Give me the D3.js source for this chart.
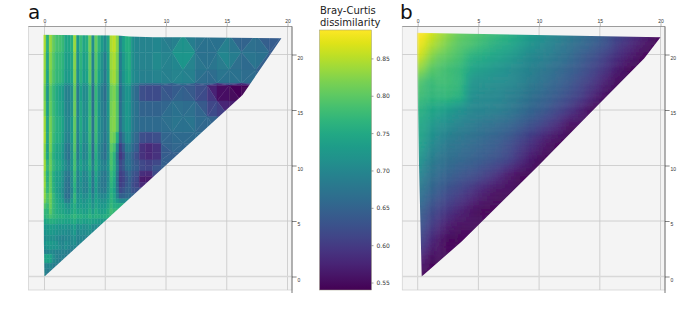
<!DOCTYPE html>
<html lang="en">
  <head>
    <meta charset="utf-8">
    <title>Bray-Curtis dissimilarity</title>
    <script src="https://cdnjs.cloudflare.com/ajax/libs/d3/7.8.5/d3.min.js"></script>
    <style type="text/css">
body { margin: 0; background: #fff; }
svg { display: block; font-family: "DejaVu Sans", sans-serif; }
.axis text { fill: #333; font-size: 5px; }
    </style>
  </head>

  <body>
    <div id="chart"></div>

    <script>
      var tickValues = [0, 5, 10, 15, 20];
      var barTicks = [0.55, 0.60, 0.65, 0.70, 0.75, 0.80, 0.85];
      var barDomain = [0.54, 0.888];

      // panel a: node positions and values
      var xsA = [-.12, .13, .38, .63, .88, 1.13, 1.38, 1.63, 1.88, 2.13, 2.38, 2.63, 2.88, 3.13, 3.38, 3.63, 3.88, 4.13, 4.38, 4.63, 4.88, 5.13, 5.38, 5.63, 5.88, 6.13, 6.38, 6.63, 6.88, 7.13, 7.38,
                 7.8, 8.3, 8.9, 9.6, 10.5, 11.4, 12.4, 13.4, 14.2, 15.2, 16.2, 17.4, 18.5, 19.6];
      var ysA = [21.8, 20.2, 18.6, 17.4, 17.2, 15.8, 14.4, 13, 12, 11.2, 10.5, 10, 9.5, 9, 8.5, 8, 7.5, 7, 6.6, 6.1, 5.6, 5.2, 4.7, 4.2, 3.7, 3.2, 2.8, 2.4, 2, 1.6, 1.2, .7, .3, 0];
      var valuesA = [
        [.85,.77,.84,.81,.79,.79,.78,.75,.75,.76,.84,.73,.78,.75,.76,.82,.72,.81,.77,.74,.72,.75,.85,.86,.83,.71,.74,.76,.75,.71,.70,.69,.69,.69,.68,.68,.70,.67,.66,.66,.66,.65,.65,.64,.64],
        [.84,.75,.83,.80,.78,.78,.77,.74,.74,.75,.83,.72,.77,.74,.75,.81,.70,.80,.76,.72,.69,.74,.84,.85,.82,.69,.73,.75,.76,.72,.70,.70,.70,.71,.70,.69,.76,.69,.66,.69,.72,.65,.70,.64,.64],
        [.83,.74,.82,.79,.77,.77,.76,.73,.73,.74,.82,.71,.76,.73,.74,.80,.69,.79,.74,.71,.68,.73,.83,.84,.81,.68,.72,.74,.75,.71,.70,.69,.69,.70,.70,.69,.72,.68,.66,.67,.69,.66,.67,.63],
        [.83,.74,.82,.79,.77,.77,.76,.73,.73,.74,.82,.71,.76,.73,.74,.80,.69,.79,.74,.71,.68,.73,.83,.84,.81,.68,.72,.74,.75,.71,.70,.69,.69,.69,.69,.68,.69,.67,.66,.66,.66,.66,.66,.63],
        [.81,.72,.80,.77,.75,.74,.73,.69,.69,.71,.80,.68,.73,.70,.71,.77,.66,.77,.71,.68,.66,.71,.81,.82,.79,.66,.70,.72,.72,.68,.66,.62,.61,.61,.62,.63,.64,.63,.60,.55,.545,.54,.55,.55],
        [.82,.73,.80,.77,.75,.74,.73,.70,.69,.71,.81,.69,.74,.71,.71,.77,.67,.77,.72,.69,.67,.72,.81,.82,.79,.66,.70,.72,.72,.68,.66,.63,.63,.63,.64,.65,.66,.64,.62,.57,.55,.55],
        [.83,.74,.81,.78,.76,.75,.74,.70,.70,.72,.81,.70,.75,.71,.72,.78,.67,.78,.72,.69,.68,.72,.82,.83,.80,.67,.71,.73,.72,.69,.68,.67,.67,.67,.67,.67,.69,.67,.65,.64,.61],
        [.85,.75,.82,.78,.76,.76,.74,.71,.70,.73,.80,.70,.75,.71,.72,.78,.68,.78,.72,.70,.68,.71,.82,.82,.79,.66,.70,.72,.72,.68,.66,.65,.65,.65,.66,.66],
        [.84,.74,.82,.77,.75,.75,.73,.69,.68,.72,.80,.69,.74,.70,.71,.77,.67,.77,.71,.69,.67,.71,.81,.80,.72,.62,.66,.70,.70,.67,.65,.60,.59,.60,.64,.66],
        [.82,.73,.81,.76,.74,.74,.72,.68,.67,.71,.79,.68,.73,.69,.70,.76,.66,.76,.70,.68,.66,.70,.79,.77,.68,.59,.62,.67,.67,.65,.63,.58,.57,.58,.63,.65],
        [.83,.75,.80,.76,.74,.74,.72,.69,.67,.71,.78,.69,.73,.70,.71,.76,.67,.75,.71,.68,.67,.71,.79,.76,.67,.60,.62,.66,.66,.64,.62,.60,.59,.60,.64],
        [.85,.78,.82,.78,.76,.76,.74,.72,.70,.73,.79,.72,.75,.72,.73,.77,.70,.77,.73,.71,.70,.73,.79,.77,.70,.63,.65,.68,.68,.66,.65,.63,.62,.63,.65],
        [.83,.76,.80,.76,.74,.74,.72,.69,.68,.71,.78,.70,.73,.70,.71,.75,.68,.75,.71,.69,.68,.71,.78,.76,.68,.61,.62,.65,.66,.64,.63,.60,.60,.63],
        [.82,.75,.80,.75,.73,.73,.71,.68,.67,.70,.77,.69,.72,.69,.70,.74,.67,.74,.70,.68,.67,.70,.77,.75,.67,.60,.61,.63,.65,.63,.62,.57,.56,.60],
        [.84,.77,.81,.76,.74,.74,.72,.68,.67,.71,.77,.70,.72,.70,.70,.74,.68,.74,.70,.68,.68,.71,.77,.75,.67,.60,.61,.63,.65,.63,.61,.56,.57],
        [.83,.76,.80,.76,.73,.72,.70,.67,.66,.70,.76,.69,.71,.69,.69,.73,.67,.73,.69,.68,.67,.71,.76,.74,.67,.61,.62,.64,.64,.62,.61,.60],
        [.82,.78,.81,.76,.74,.73,.71,.68,.67,.69,.76,.70,.72,.70,.70,.73,.68,.73,.70,.69,.69,.72,.76,.74,.68,.63,.64,.65,.66,.64],
        [.84,.80,.82,.78,.75,.74,.72,.66,.66,.72,.78,.72,.73,.71,.72,.74,.70,.74,.72,.71,.71,.73,.77,.75,.70,.66,.66],
        [.80,.78,.80,.76,.75,.74,.74,.72,.71,.73,.76,.72,.73,.72,.73,.74,.71,.74,.73,.72,.72,.74,.76,.75],
        [.79,.77,.82,.78,.76,.75,.74,.73,.72,.74,.76,.73,.74,.73,.73,.75,.72,.75,.73,.73,.73,.75,.78,.76],
        [.76,.76,.78,.76,.75,.75,.75,.74,.74,.75,.76,.75,.75,.74,.74,.76,.74,.76,.75,.74,.75,.76,.78],
        [.77,.78,.79,.78,.78,.77,.77,.76,.76,.77,.78,.76,.77,.76,.76,.77,.76,.76,.76,.76,.76],
        [.72,.72,.73,.73,.72,.72,.72,.72,.72,.72,.73,.71,.72,.71,.71,.72,.71,.71,.70,.70],
        [.73,.73,.74,.73,.73,.72,.72,.72,.71,.72,.74,.70,.72,.71,.72,.73,.70,.71],
        [.71,.72,.72,.72,.71,.71,.70,.70,.70,.71,.72,.70,.70,.70,.70,.70],
        [.70,.71,.71,.71,.70,.69,.69,.70,.70,.70,.71,.69,.70,.69],
        [.74,.75,.75,.74,.74,.72,.71,.72,.71,.71,.72,.70],
        [.68,.69,.70,.70,.70,.70,.69,.70,.69,.68],
        [.70,.70,.71,.70,.69,.69,.69,.68,.68],
        [.78,.78,.77,.72,.70,.69,.69],
        [.70,.70,.71,.69,.69,.68],
        [.68,.69,.69,.68],
        [.72,.68],
        [.68,.68]
      ];
      var outlineA = [[-.08, 21.78], [3, 21.74], [6, 21.72], [7, 21.62], [9, 21.55], [11.5, 21.55], [19.5, 21.46], [16.3, 16.35], [0, 0], [-.05, 3], [-.08, 12]];

      // panel b
      var xsB = [0, .5, 1, 1.7, 2.5, 3.5, 4.5, 5.5, 6.5, 7.5, 8.5, 9.5, 10.5, 11.5, 12.5, 13.5, 14.5, 15.5, 16.5, 17.5, 18.5, 19.5, 20.2];
      var ysB = [22, 20.8, 19.8, 18.6, 17.5, 16.2, 15, 13.5, 12, 10.5, 9, 7.5, 6, 4.5, 3, 1.5, 0];
      var valuesB = [
        [.888,.885,.87,.85,.83,.805,.795,.785,.775,.76,.745,.73,.715,.70,.685,.67,.655,.635,.615,.595,.575,.555,.545],
        [.88,.87,.85,.835,.815,.795,.785,.77,.755,.745,.73,.715,.70,.685,.67,.655,.64,.625,.60,.58,.56,.545],
        [.865,.85,.83,.81,.80,.785,.76,.75,.74,.73,.715,.70,.69,.675,.66,.64,.625,.605,.585,.565,.545],
        [.83,.82,.80,.79,.78,.77,.74,.73,.72,.71,.70,.69,.675,.66,.645,.63,.61,.59,.565,.545],
        [.795,.785,.775,.78,.78,.77,.72,.715,.71,.705,.695,.68,.665,.65,.635,.615,.595,.57,.55],
        [.78,.775,.77,.77,.77,.76,.71,.705,.70,.69,.68,.665,.65,.635,.62,.60,.575,.55],
        [.76,.755,.745,.74,.73,.715,.70,.695,.69,.68,.665,.65,.635,.615,.595,.57,.545],
        [.75,.74,.73,.715,.705,.69,.68,.67,.66,.65,.635,.62,.60,.58,.55],
        [.74,.73,.71,.695,.68,.67,.66,.65,.64,.625,.605,.585,.56,.545],
        [.725,.71,.69,.675,.665,.655,.645,.635,.625,.61,.585,.56,.545],
        [.70,.685,.67,.655,.645,.63,.62,.605,.585,.56,.545],
        [.675,.665,.65,.635,.62,.605,.585,.565,.55],
        [.65,.64,.625,.61,.595,.575,.555,.545],
        [.63,.62,.605,.585,.565,.55],
        [.615,.60,.58,.56,.545],
        [.58,.565,.55],
        [.55,.545]
      ];
      var outlineB = [[-.08, 21.96], [20, 21.55], [18.65, 19.65], [15, 15.6], [10, 10.05], [5, 4.64], [3.6, 3.13], [.33, 0], [.11, 10]];

      var width = 683, height = 321;
      var svg = d3.select("#chart").append("svg")
          .attr("width", width)
          .attr("height", height);

      var defs = svg.append("defs");

      var color = d3.scaleSequential(d3.interpolateViridis).domain(barDomain);

      function drawFrame(g, frame, x, y) {
        g.append("rect")
            .attr("x", frame[0])
            .attr("y", 26.5)
            .attr("width", frame[1] - frame[0])
            .attr("height", 263.5)
            .attr("fill", "#f4f4f4")
            .attr("stroke", "#d4d4d4")
            .attr("stroke-width", 0.8);

        g.selectAll(".gx").data(tickValues).enter().append("line")
            .attr("x1", function(d) { return x(d); })
            .attr("x2", function(d) { return x(d); })
            .attr("y1", 26.5)
            .attr("y2", 290)
            .attr("stroke", "#c6c6c6")
            .attr("stroke-width", 0.8);
        g.selectAll(".gy").data(tickValues).enter().append("line")
            .attr("x1", frame[0])
            .attr("x2", frame[1])
            .attr("y1", function(d) { return y(d); })
            .attr("y2", function(d) { return y(d); })
            .attr("stroke", function(d) { return d == 0 ? "#d8d8d8" : "#c6c6c6"; })
            .attr("stroke-width", function(d) { return d == 0 ? 1.6 : 0.8; });
      }

      function drawAxes(g, frame, x, y) {
        var top = g.append("g")
            .attr("class", "axis")
            .attr("transform", "translate(0,26.5)")
            .call(d3.axisTop(x).tickValues(tickValues).tickFormat(d3.format("d")).tickSize(3.2).tickPadding(0.5));
        top.select(".domain").attr("d", "M" + frame[0] + ",0H" + frame[1]).attr("stroke", "#8c8c8c").attr("stroke-width", 0.8);
        top.selectAll(".tick line").attr("stroke", "#888").attr("stroke-width", 0.6);

        var right = g.append("g")
            .attr("class", "axis")
            .attr("transform", "translate(" + frame[1] + ",0)")
            .call(d3.axisRight(y).tickValues(tickValues).tickFormat(d3.format("d")).tickSize(4.6).tickPadding(1));
        right.select(".domain").attr("d", "M0,26.5V293").attr("stroke", "#666").attr("stroke-width", 0.9);
        right.selectAll(".tick line").attr("stroke", "#333").attr("stroke-width", 0.6);
        right.selectAll(".tick text").attr("dy", "0.9em");
      }

      function nodeAt(xs, ys, values, i, j) {
        var row = values[j];
        return [xs[i], ys[j], i < row.length ? row[i] : row[row.length - 1]];
      }

      // flat cells where the columns are narrow, union jack triangles where they are wide
      function meshA(xs, ys, values) {
        var out = [];
        for (var j = 0; j < ys.length - 1; j++) {
          for (var i = 0; i < xs.length - 1; i++) {
            var a = nodeAt(xs, ys, values, i, j), b = nodeAt(xs, ys, values, i + 1, j),
                c = nodeAt(xs, ys, values, i + 1, j + 1), e = nodeAt(xs, ys, values, i, j + 1);
            if (xs[i + 1] - xs[i] < 0.75) {
              out.push({pts: [a, b, c, e], v: (a[2] + e[2]) / 2});
            } else if ((i + j) % 2 == 0) {
              out.push({pts: [a, b, c], v: (a[2] + b[2] + c[2]) / 3});
              out.push({pts: [a, c, e], v: (a[2] + c[2] + e[2]) / 3});
            } else {
              out.push({pts: [a, b, e], v: (a[2] + b[2] + e[2]) / 3});
              out.push({pts: [b, c, e], v: (b[2] + c[2] + e[2]) / 3});
            }
          }
        }
        return out;
      }

      // panel b is a smooth surface, so each cell is shaded in small steps between its nodes
      function meshB(xs, ys, values) {
        var out = [], steps = 4;
        for (var j = 0; j < ys.length - 1; j++) {
          for (var i = 0; i < xs.length - 1; i++) {
            var a = nodeAt(xs, ys, values, i, j), b = nodeAt(xs, ys, values, i + 1, j),
                c = nodeAt(xs, ys, values, i + 1, j + 1), e = nodeAt(xs, ys, values, i, j + 1);
            for (var m = 0; m < steps; m++) {
              for (var n = 0; n < steps; n++) {
                var u0 = m / steps, u1 = (m + 1) / steps, w0 = n / steps, w1 = (n + 1) / steps;
                var um = (u0 + u1) / 2, wm = (w0 + w1) / 2;
                var top = a[2] + (b[2] - a[2]) * um, bot = e[2] + (c[2] - e[2]) * um;
                var px0 = a[0] + (b[0] - a[0]) * u0, px1 = a[0] + (b[0] - a[0]) * u1;
                var py0 = a[1] + (e[1] - a[1]) * w0, py1 = a[1] + (e[1] - a[1]) * w1;
                out.push({pts: [[px0, py0], [px1, py0], [px1, py1], [px0, py1]], v: top + (bot - top) * wm});
              }
            }
          }
        }
        return out;
      }

      function drawPanel(id, frame, xRange, letter, letterX, mesh, outline, blur) {
        var x = d3.scaleLinear().domain([0, 20]).range(xRange);
        var y = d3.scaleLinear().domain([0, 20]).range([276.5, 54.5]);
        var g = svg.append("g");

        drawFrame(g, frame, x, y);

        var line = d3.line()
            .x(function(d) { return x(d[0]); })
            .y(function(d) { return y(d[1]); });

        defs.append("clipPath").attr("id", id)
            .append("path")
            .attr("d", line(outline) + "Z");

        defs.append("filter").attr("id", id + "Soft")
            .attr("x", "-5%").attr("y", "-5%").attr("width", "110%").attr("height", "110%")
            .append("feGaussianBlur").attr("stdDeviation", blur);

        g.append("g")
            .attr("clip-path", "url(#" + id + ")")
            .append("g")
            .attr("filter", "url(#" + id + "Soft)")
            .selectAll("path")
            .data(mesh)
            .enter().append("path")
            .attr("d", function(d) { return line(d.pts) + "Z"; })
            .attr("fill", function(d) { return color(d.v); })
            .attr("stroke", function(d) { return color(d.v); })
            .attr("stroke-width", 0.4);

        drawAxes(g, frame, x, y);

        svg.append("text")
            .attr("x", letterX)
            .attr("y", 18.5)
            .attr("font-size", 20)
            .attr("fill", "#111")
            .text(letter);
      }

      drawPanel("clipA", [28.5, 292], [44.5, 287.5], "a", 28, meshA(xsA, ysA, valuesA), outlineA, 0.45);
      drawPanel("clipB", [402.3, 665], [417.7, 660.5], "b", 400, meshB(xsB, ysB, valuesB), outlineB, 0.9);

      // colour bar
      var barY = d3.scaleLinear().domain(barDomain).range([290, 30]);
      var grad = defs.append("linearGradient")
          .attr("id", "viridis")
          .attr("x1", 0).attr("x2", 0).attr("y1", 1).attr("y2", 0);
      grad.selectAll("stop")
          .data(d3.range(0, 1.0001, 0.05))
          .enter().append("stop")
          .attr("offset", function(d) { return d; })
          .attr("stop-color", function(d) { return d3.interpolateViridis(d); });

      svg.append("rect")
          .attr("x", 319.5)
          .attr("y", barY(barDomain[1]))
          .attr("width", 52)
          .attr("height", barY(barDomain[0]) - barY(barDomain[1]))
          .attr("fill", "url(#viridis)")
          .attr("stroke", "#9a9a80")
          .attr("stroke-width", 0.5);

      var barAxis = svg.append("g")
          .attr("transform", "translate(371.5,0)")
          .call(d3.axisRight(barY).tickValues(barTicks).tickFormat(d3.format(".2f")).tickSize(2).tickPadding(3));
      barAxis.select(".domain").remove();
      barAxis.selectAll("text").attr("font-size", 6).attr("fill", "#333").attr("font-family", "DejaVu Sans");
      barAxis.selectAll("line").attr("stroke", "#444").attr("stroke-width", 0.5);

      svg.selectAll(".barTitle")
          .data(["Bray-Curtis", "dissimilarity"])
          .enter().append("text")
          .attr("x", 320)
          .attr("y", function(d, i) { return 13.5 + i * 12.5; })
          .attr("font-size", 10)
          .attr("fill", "#222")
          .text(function(d) { return d; });
    </script>
  </body>
</html>
